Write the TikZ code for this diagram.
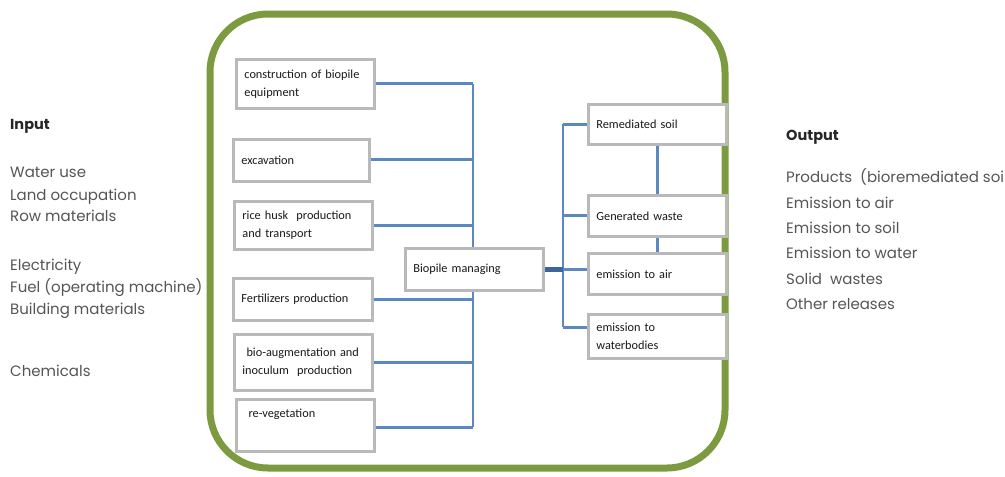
\documentclass[tikz,border=0pt]{standalone}
\usepackage{fontspec}
\setmainfont{Carlito}
\newfontfamily\gothic{Poppins}
\usetikzlibrary{backgrounds}
\definecolor{frameg}{RGB}{124,155,64}
\definecolor{conn}{RGB}{92,136,192}
\definecolor{connd}{RGB}{62,100,155}
\definecolor{boxline}{RGB}{185,185,185}
\definecolor{sidetext}{RGB}{85,85,85}
\tikzset{
  box/.style={draw=boxline, line width=2.8pt, fill=white, anchor=north west,
    align=left, inner xsep=8pt, inner ysep=0pt,
    font=\fontsize{12.3}{18}\selectfont, text=black!90},
  link/.style={draw=conn, line width=2.9pt},
  side/.style={anchor=mid west, inner sep=0pt, text=sidetext, font=\gothic\fontsize{15}{18}\selectfont},
  sidehead/.style={anchor=mid west, inner sep=0pt, text=black!85, font=\gothic\bfseries\fontsize{14.5}{18}\selectfont},
  frame/.style={draw=frameg, line width=7pt, rounded corners=58pt}
}
\begin{document}
\begin{tikzpicture}[x=1pt,y=-1pt]
\useasboundingbox (0,0) rectangle (1005,477);
\clip (0,0) rectangle (1005,477);

% green frame
\draw[frame] (210,14) rectangle (725,468);

% input text
\node[sidehead] (inh) at (10,127) {Input};
\node[side] (in1) at (10,175) {Water use};
\node[side] (in2) at (10,198) {Land occupation};
\node[side] (in3) at (10,219) {Row materials};
\node[side] (in4) at (10,268) {Electricity};
\node[side] (in5) at (10,290) {Fuel (operating machine)};
\node[side] (in6) at (10,312) {Building materials};
\node[side] (in7) at (10,374) {Chemicals};

% output text
\node[sidehead] (outh) at (786,138) {Output};
\node[side] (o1) at (786,180) {Products\ \ (bioremediated soil)};
\node[side] (o2) at (786,206) {Emission to air};
\node[side] (o3) at (786,231) {Emission to soil};
\node[side] (o4) at (786,256) {Emission to water};
\node[side] (o5) at (786,282) {Solid\ \ wastes};
\node[side] (o6) at (786,307) {Other releases};

% left boxes
\node[box, minimum width=138pt, minimum height=49pt, text width=122pt] (b1) at (235,58) {construction of biopile\\equipment};
\node[box, minimum width=136pt, minimum height=42pt, text width=120pt] (b2) at (232,138) {excavation\\[2pt]};
\node[box, minimum width=138pt, minimum height=48pt, text width=122pt] (b3) at (233,200) {rice husk\ \ production\\and transport};
\node[box, minimum width=139pt, minimum height=42pt, text width=123pt] (b4) at (232,277) {Fertilizers production};
\node[box, minimum width=138pt, minimum height=56pt, text width=122pt] (b5) at (233,333) {\ bio-augmentation and\\inoculum\ \ production};
\node[box, minimum width=138pt, minimum height=52pt, text width=122pt] (b6) at (235,398) {\ re-vegetation\\\strut};

% central box
\node[box, minimum width=138pt, minimum height=42pt, text width=122pt] (bm) at (404,247) {Biopile managing\\[4pt]};

% right boxes
\node[box, minimum width=138pt, minimum height=40pt, text width=122pt] (r1) at (587,103) {Remediated soil\\[2pt]};
\node[box, minimum width=138pt, minimum height=41pt, text width=122pt] (r2) at (587,194) {Generated waste\\[2pt]};
\node[box, minimum width=138pt, minimum height=41pt, text width=122pt] (r3) at (587,252) {emission to air\\[2pt]};
\node[box, minimum width=138pt, minimum height=44pt, text width=122pt] (r4) at (587,313) {emission to\\waterbodies};

\coordinate (busL) at (473,0);
\coordinate (busR) at (563,0);

\begin{scope}[on background layer]
  % left bus
  \draw[link] (b1.east -| busL) -- ([yshift=-2pt]b6.east -| busL);
  \draw[link] (b1.east) -- (b1.east -| busL);
  \draw[link] ([yshift=1pt]b2.east) -- ([yshift=1pt]b2.east -| busL);
  \draw[link] (b3.east) -- (b3.east -| busL);
  \draw[link] (b4.east) -- (b4.east -| busL);
  \draw[link] (b5.east) -- (b5.east -| busL);
  \draw[link] ([yshift=-2pt]b6.east) -- ([yshift=-2pt]b6.east -| busL);
  % right bus
  \draw[link] (r1.west -| busR) -- ([yshift=9pt]r4.west -| busR);
  \draw[link] (r1.west) -- (r1.west -| busR);
  \draw[link] (r2.west) -- (r2.west -| busR);
  \draw[link] (r3.west |- bm.east) -- (bm.east -| busR);
  \draw[link] ([yshift=9pt]r4.west) -- ([yshift=9pt]r4.west -| busR);
  \draw[draw=connd, line width=4.5pt] (bm.east) -- (bm.east -| busR);
  % vertical links between right boxes
  \draw[link] (r1.south) -- (r2.north);
  \draw[link] (r2.south) -- (r3.north);
\end{scope}
\end{tikzpicture}
\end{document}
